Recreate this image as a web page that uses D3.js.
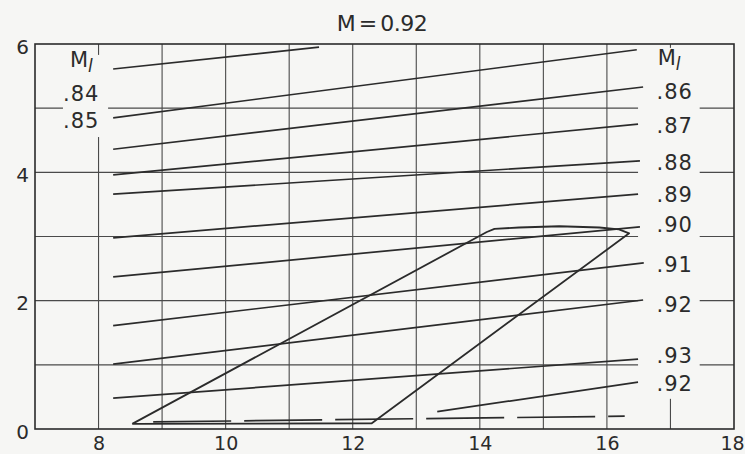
<!DOCTYPE html>
<html>
<head>
<meta charset="utf-8">
<script src="https://cdn.jsdelivr.net/npm/d3@7"></script>
<style>
    body { margin: 0; background: #f6f6f4; }
    svg { display: block; }
    text { font-family: "DejaVu Sans", "Liberation Sans", sans-serif; fill: #2b2b2b; }
</style>
</head>
<body>
<svg id="chart"></svg>
<script>
// TICK LABELS
var xTicks = [ 8, 10, 12, 14, 16, 18 ];
var yTicks = [ 0, 2, 4, 6 ];
var xGrid = [ 8, 9, 10, 11, 12, 13, 14, 15, 16, 17 ];
var yGrid = [ 1, 2, 3, 4, 5 ];

// M_l LINES, [x, y] at each end
var lineStart = [
    [ 8.23, 5.61 ],
    [ 8.23, 4.85 ],
    [ 8.23, 4.36 ],
    [ 8.23, 3.96 ],
    [ 8.23, 3.66 ],
    [ 8.23, 2.98 ],
    [ 8.23, 2.37 ],
    [ 8.23, 1.61 ],
    [ 8.23, 1.01 ],
    [ 8.23, 0.48 ],
    [ 13.33, 0.27 ]
];
var lineEnd = [
    [ 11.47, 5.95 ],
    [ 16.47, 5.91 ],
    [ 16.57, 5.33 ],
    [ 16.49, 4.75 ],
    [ 16.52, 4.18 ],
    [ 16.49, 3.66 ],
    [ 16.52, 3.15 ],
    [ 16.58, 2.59 ],
    [ 16.57, 2.01 ],
    [ 16.49, 1.09 ],
    [ 16.49, 0.73 ]
];

// dashed line near the bottom
var dashedLine = [ [ 8.86, 0.11 ], [ 16.28, 0.20 ] ];

// closed outline (parallelogram with curved top)
var outlineX = [ 8.53, 14.11, 14.23, 14.62, 15.25, 15.88, 16.19, 16.35, 12.30, 8.53 ];
var outlineY = [ 0.08, 3.07, 3.12, 3.14, 3.16, 3.14, 3.11, 3.05, 0.09, 0.08 ];

// LABELS
var leftLabels = [ ".84", ".85" ];
var leftLabelY = [ 5.11, 4.69 ];
var rightLabels = [ ".86", ".87", ".88", ".89", ".90", ".91", ".92", ".93", ".92" ];
var rightLabelY = [ 5.14, 4.61, 4.04, 3.54, 3.07, 2.45, 1.82, 1.03, 0.59 ];
var title = "M = 0.92";

var svgWidth = 745;
var svgHeight = 454;
var ink = "#2b2b2b";
var paper = "#f6f6f4";

var svg = d3.select( "#chart" )
    .attr( "width", svgWidth )
    .attr( "height", svgHeight );

svg.append( "rect" )
    .attr( "width", svgWidth )
    .attr( "height", svgHeight )
    .attr( "fill", paper );

var x = d3.scaleLinear().domain( [ 7, 18 ] ).range( [ 35, 734 ] );
var y = d3.scaleLinear().domain( [ 0, 6 ] ).range( [ 429, 44 ] );

// GRID
svg.append( "g" )
    .selectAll( "line" )
    .data( xGrid )
    .enter()
    .append( "line" )
    .attr( "x1", d => x( d ) ).attr( "x2", d => x( d ) )
    .attr( "y1", y( 0 ) ).attr( "y2", y( 6 ) )
    .attr( "stroke", "#4a4a4a" )
    .attr( "stroke-width", 1.1 );

svg.append( "g" )
    .selectAll( "line" )
    .data( yGrid )
    .enter()
    .append( "line" )
    .attr( "x1", x( 7 ) ).attr( "x2", x( 18 ) )
    .attr( "y1", d => y( d ) ).attr( "y2", d => y( d ) )
    .attr( "stroke", "#4a4a4a" )
    .attr( "stroke-width", 1.1 );

// gaps in the grid where the labels sit
function knockout( xa, xb, ya, yb ) {
    svg.append( "rect" )
        .attr( "x", x( xa ) )
        .attr( "y", y( ya ) )
        .attr( "width", x( xb ) - x( xa ) )
        .attr( "height", y( yb ) - y( ya ) )
        .attr( "fill", paper );
}
knockout( 7.44, 8.15, 5.83, 4.55 );
knockout( 16.49, 17.46, 5.94, 0.47 );

// FRAME
svg.append( "rect" )
    .attr( "x", x( 7 ) )
    .attr( "y", y( 6 ) )
    .attr( "width", x( 18 ) - x( 7 ) )
    .attr( "height", y( 0 ) - y( 6 ) )
    .attr( "fill", "none" )
    .attr( "stroke", ink )
    .attr( "stroke-width", 1.6 );

// M_l LINES
svg.append( "g" )
    .selectAll( "line" )
    .data( lineStart )
    .enter()
    .append( "line" )
    .attr( "x1", d => x( d[ 0 ] ) )
    .attr( "y1", d => y( d[ 1 ] ) )
    .attr( "x2", ( d, i ) => x( lineEnd[ i ][ 0 ] ) )
    .attr( "y2", ( d, i ) => y( lineEnd[ i ][ 1 ] ) )
    .attr( "stroke", ink )
    .attr( "stroke-width", 1.7 );

svg.append( "line" )
    .attr( "x1", x( dashedLine[ 0 ][ 0 ] ) )
    .attr( "y1", y( dashedLine[ 0 ][ 1 ] ) )
    .attr( "x2", x( dashedLine[ 1 ][ 0 ] ) )
    .attr( "y2", y( dashedLine[ 1 ][ 1 ] ) )
    .attr( "stroke", ink )
    .attr( "stroke-width", 1.7 )
    .attr( "stroke-dasharray", "78 13" );

// OUTLINE
var outline = d3.line()
    .x( d => x( d[ 0 ] ) )
    .y( d => y( d[ 1 ] ) )
    .curve( d3.curveLinear );

svg.append( "path" )
    .datum( outlineX.map( ( v, i ) => [ v, outlineY[ i ] ] ) )
    .attr( "d", outline )
    .attr( "fill", "none" )
    .attr( "stroke", ink )
    .attr( "stroke-width", 1.8 )
    .attr( "stroke-linejoin", "round" );

// AXES (labels only)
var xAxis = svg.append( "g" )
    .attr( "transform", "translate(0," + y( 0 ) + ")" )
    .call( d3.axisBottom( x ).tickValues( xTicks ).tickFormat( d3.format( "d" ) ).tickSize( 0 ).tickPadding( 8 ) );
xAxis.select( ".domain" ).remove();
xAxis.selectAll( "text" )
    .attr( "font-size", 19 )
    .attr( "font-family", "Liberation Sans, sans-serif" )
    .attr( "fill", ink );
// keep the last label inside the picture
xAxis.selectAll( ".tick" ).filter( d => d === 18 ).select( "text" ).attr( "dx", -2 );

var yAxis = svg.append( "g" )
    .attr( "transform", "translate(" + x( 7 ) + ",0)" )
    .call( d3.axisLeft( y ).tickValues( yTicks ).tickFormat( d3.format( "d" ) ).tickSize( 0 ).tickPadding( 6 ) );
yAxis.select( ".domain" ).remove();
yAxis.selectAll( "text" )
    .attr( "font-size", 20 )
    .attr( "font-family", "Liberation Sans, sans-serif" )
    .attr( "dy", "0.45em" )
    .attr( "fill", ink );

// TITLE
svg.append( "text" )
    .attr( "x", 382 )
    .attr( "y", 31 )
    .attr( "text-anchor", "middle" )
    .attr( "font-size", 22 )
    .attr( "word-spacing", "-3px" )
    .attr( "letter-spacing", "-0.5px" )
    .text( title );

// M_l headings
function machHeading( xv, yv ) {
    var t = svg.append( "text" )
        .attr( "x", x( xv ) )
        .attr( "y", y( yv ) )
        .attr( "font-size", 21 );
    t.append( "tspan" ).text( "M" );
    t.append( "tspan" )
        .attr( "font-style", "italic" )
        .attr( "font-size", 17 )
        .attr( "dy", 5 )
        .text( "l" );
}
machHeading( 7.55, 5.64 );
machHeading( 16.8, 5.67 );

svg.append( "g" )
    .selectAll( "text" )
    .data( leftLabels )
    .enter()
    .append( "text" )
    .attr( "x", x( 7.44 ) )
    .attr( "y", ( d, i ) => y( leftLabelY[ i ] ) )
    .attr( "font-size", 21 )
    .attr( "letter-spacing", "1px" )
    .text( d => d );

svg.append( "g" )
    .selectAll( "text" )
    .data( rightLabels )
    .enter()
    .append( "text" )
    .attr( "x", x( 16.78 ) )
    .attr( "y", ( d, i ) => y( rightLabelY[ i ] ) )
    .attr( "font-size", 21 )
    .attr( "letter-spacing", "1px" )
    .text( d => d );
</script>
</body>
</html>
